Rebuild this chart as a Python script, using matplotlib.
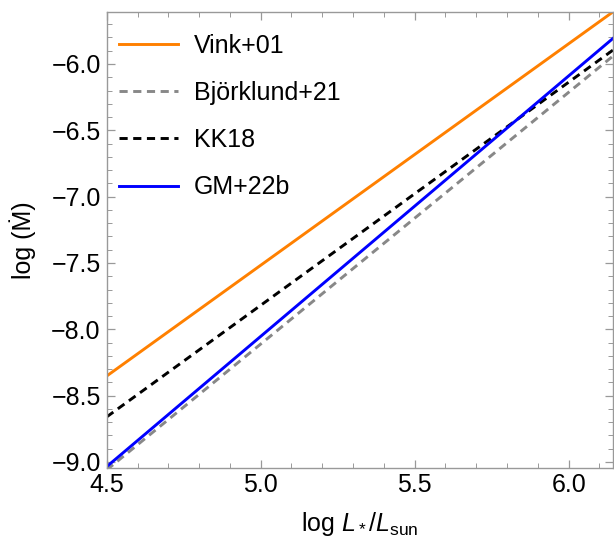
import matplotlib
matplotlib.use('Agg')
import matplotlib.pyplot as plt
from matplotlib.ticker import MultipleLocator

plt.rcParams['font.family'] = ['Liberation Sans', 'DejaVu Sans']
plt.rcParams['mathtext.fontset'] = 'custom'
plt.rcParams['mathtext.rm'] = 'Liberation Sans'
plt.rcParams['mathtext.it'] = 'Liberation Sans:italic'
plt.rcParams['mathtext.bf'] = 'Liberation Sans:bold'

# Data: line endpoints (log L at left/right edge)
log_l = [4.5, 6.144]
vink01 = [-8.352, -5.607]
bjorklund21 = [-9.06, -5.94]
kk18 = [-8.66, -5.895]
gm22b = [-9.035, -5.807]

labels = ['Vink+01', 'Björklund+21', 'KK18', 'GM+22b']

fig = plt.figure(figsize=(6.14, 5.42), dpi=100)
ax = fig.add_axes([0.1738, 0.1371, 0.8246, 0.8413])

dash = (0, (2.8, 1.9))
ax.plot(log_l, vink01, color='#FF8000', lw=2.1, label=labels[0])
ax.plot(log_l, bjorklund21, color='#888888', lw=2.1, ls=dash, label=labels[1])
ax.plot(log_l, kk18, color='black', lw=2.1, ls=dash, label=labels[2])
ax.plot(log_l, gm22b, color='#0000FF', lw=2.1, label=labels[3])

ax.set_xlim(4.5, 6.144)
ax.set_ylim(-9.043, -5.606)

ax.xaxis.set_major_locator(MultipleLocator(0.5))
ax.xaxis.set_minor_locator(MultipleLocator(0.1))
ax.yaxis.set_major_locator(MultipleLocator(0.5))
ax.yaxis.set_minor_locator(MultipleLocator(0.1))
ax.xaxis.set_major_formatter(plt.FormatStrFormatter('%.1f'))
ax.yaxis.set_major_formatter(plt.FuncFormatter(lambda v, p: ('%.1f' % v).replace('-', '\u2212')))

ax.tick_params(which='both', direction='in', top=True, right=True, color='#999999', labelsize=18)
ax.tick_params(which='major', length=6, width=0.9)
ax.tick_params(which='minor', length=3.5, width=0.7)
ax.tick_params(axis='x', pad=4)
ax.tick_params(axis='y', pad=4.3)
for s in ax.spines.values():
    s.set_color('#999999')
    s.set_linewidth(1.0)

ax.set_xlabel(r'log $L_*/L_{\rm sun}$', fontsize=18, labelpad=9)
ax.set_ylabel('log (\u1E40)', fontsize=18, labelpad=11)

leg = ax.legend(loc='upper left', frameon=False, fontsize=18, handlelength=2.35,
                labelspacing=0.93, handletextpad=0.65, borderaxespad=0.0,
                bbox_to_anchor=(0.005, 0.974))

fig.savefig('out.png', dpi=100)
